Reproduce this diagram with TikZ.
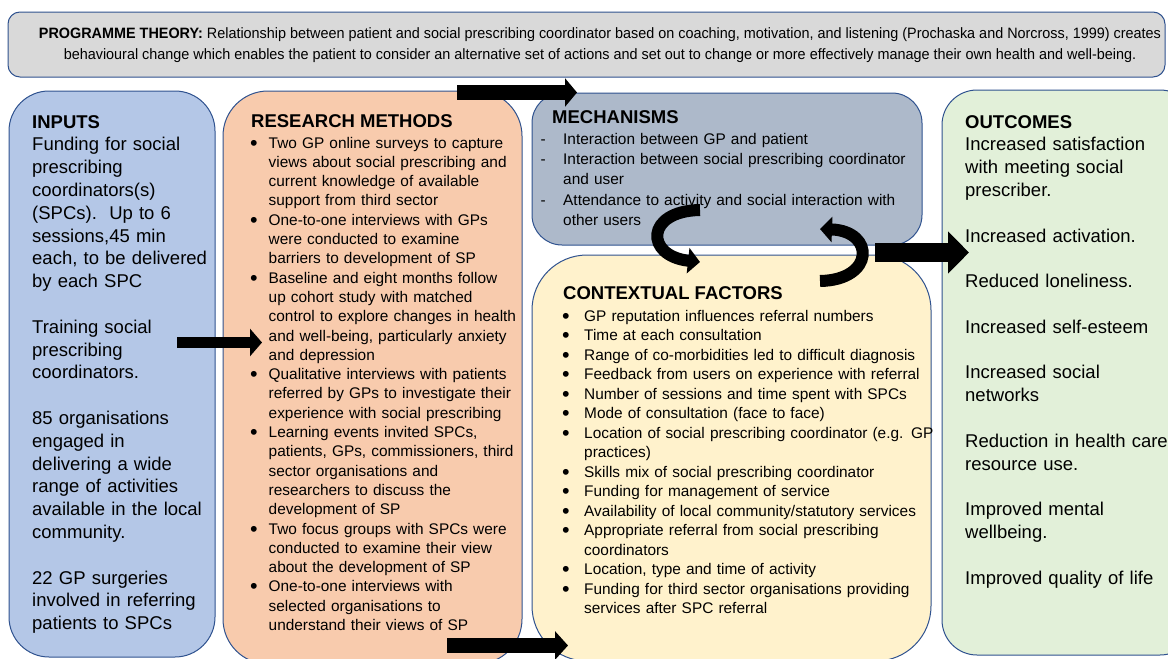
\documentclass[tikz,border=0pt]{standalone}
\usepackage{fontspec}
\setmainfont{Liberation Sans}
\newfontfamily\narrowfont[FakeStretch=0.96]{Liberation Sans}
\usetikzlibrary{arrows.meta}

\definecolor{bordercol}{HTML}{2F528F}
\definecolor{theorycol}{HTML}{D9D9D9}
\definecolor{inputcol}{HTML}{B4C7E7}
\definecolor{methodcol}{HTML}{F8CBAD}
\definecolor{mechcol}{HTML}{ADB9CA}
\definecolor{contextcol}{HTML}{FFF2CC}
\definecolor{outcomecol}{HTML}{E2F0D9}

\newlength{\bulwidth}
\newcommand{\bul}{\makebox[\bulwidth][l]{\raisebox{-2pt}{\scalebox{1.4}{\textbullet}}}}
\newcommand{\dsh}{\makebox[\bulwidth][l]{-}}
\newcommand{\ind}{\hspace*{\bulwidth}}

\tikzset{
  panel/.style={draw=bordercol, line width=1pt, inner sep=0pt},
  bigtext/.style={anchor=base west, inner sep=0pt, text width=230pt, align=left,
    font=\fontsize{18.5pt}{22.8pt}\selectfont},
  smalltext/.style={anchor=base west, inner sep=0pt, text width=420pt, align=left,
    font=\fontsize{15.4pt}{19.3pt}\selectfont},
  heading/.style={anchor=base west, inner sep=0pt, font=\bfseries\fontsize{18.5pt}{22pt}\selectfont},
  blockarrow/.style={line width=#1, black},
  curvearrow/.style={line width=12pt, black, -{Triangle[length=12pt,width=25pt]}},
}

\begin{document}
\begin{tikzpicture}[x=1pt,y=-1pt]
\useasboundingbox (0,0) rectangle (1168,659);

%Programme theory
\node[panel, fill=theorycol, rounded corners=12pt,
minimum width=1157pt, minimum height=65pt] (theory) at (586.5,44.5){};

%Inputs
\node[panel, fill=inputcol, rounded corners=40pt,
minimum width=206pt, minimum height=566pt] (inputs) at (112,374){};

%Research methods
\node[panel, fill=methodcol, rounded corners=45pt,
minimum width=299pt, minimum height=573pt] (methods) at (372.5,377.5){};

%Mechanisms
\node[panel, fill=mechcol, rounded corners=30pt,
minimum width=390pt, minimum height=152pt] (mech) at (727,169){};

%Contextual factors
\node[panel, fill=contextcol, rounded corners=55pt,
minimum width=399pt, minimum height=406pt] (context) at (731.5,458){};

%Outcomes
\node[panel, fill=outcomecol, rounded corners=35pt,
minimum width=253pt, minimum height=565pt] (outcomes) at (1068.5,372.5){};


%%%%%%%%%%%%%%%%%Texts%%%%%%%%%%%%%%
\node[inner sep=0pt, align=center, font=\narrowfont\fontsize{15pt}{20.5pt}\selectfont
] (theorytext) at (600,45){\textbf{PROGRAMME THEORY:} Relationship between patient and social prescribing coordinator based on coaching, motivation, and listening (Prochaska and Norcross, 1999) creates\\
behavioural change which enables the patient to consider an alternative set of actions and set out to change or more effectively manage their own health and well-being.};

\node[bigtext] (inputstext) at (32,128){\textbf{INPUTS}\\
Funding for social\\
prescribing\\
coordinators(s)\\
(SPCs).\ \ Up to 6\\
sessions,45 min\\
each, to be delivered\\
by each SPC\\[22.8pt]
Training social\\
prescribing\\
coordinators.\\[22.8pt]
85 organisations\\
engaged in\\
delivering a wide\\
range of activities\\
available in the local\\
community.\\[22.8pt]
22 GP surgeries\\
involved in referring\\
patients to SPCs};

\node[heading] (methodstitle) at (251,127){RESEARCH METHODS};
\node[smalltext] (methodslist) at (250,148){\setlength{\bulwidth}{18.5pt}%
\bul Two GP online surveys to capture\\
\ind views about social prescribing and\\
\ind current knowledge of available\\
\ind support from third sector\\
\bul One-to-one interviews with GPs\\
\ind were conducted to examine\\
\ind barriers to development of SP\\
\bul Baseline and eight months follow\\
\ind up cohort study with matched\\
\ind control to explore changes in health\\
\ind and well-being, particularly anxiety\\
\ind and depression\\
\bul Qualitative interviews with patients\\
\ind referred by GPs to investigate their\\
\ind experience with social prescribing\\
\bul Learning events invited SPCs,\\
\ind patients, GPs, commissioners, third\\
\ind sector organisations and\\
\ind researchers to discuss the\\
\ind development of SP\\
\bul Two focus groups with SPCs were\\
\ind conducted to examine their view\\
\ind about the development of SP\\
\bul One-to-one interviews with\\
\ind selected organisations to\\
\ind understand their views of SP};

\node[heading] (mechtitle) at (552,123.5){MECHANISMS};
\node[smalltext, font=\fontsize{15.4pt}{20.4pt}\selectfont
] (mechlist) at (540.5,144){\setlength{\bulwidth}{22.5pt}%
\dsh Interaction between GP and patient\\
\dsh Interaction between social prescribing coordinator\\
\ind and user\\
\dsh Attendance to activity and social interaction with\\
\ind other users};

\node[heading] (contexttitle) at (563,299.5){CONTEXTUAL FACTORS};
\node[smalltext, font=\fontsize{15.4pt}{19.53pt}\selectfont
] (contextlist) at (562,321){\setlength{\bulwidth}{22pt}%
\bul GP reputation influences referral numbers\\
\bul Time at each consultation\\
\bul Range of co-morbidities led to difficult diagnosis\\
\bul Feedback from users on experience with referral\\
\bul Number of sessions and time spent with SPCs\\
\bul Mode of consultation (face to face)\\
\bul Location of social prescribing coordinator (e.g. GP\\
\ind practices)\\
\bul Skills mix of social prescribing coordinator\\
\bul Funding for management of service\\
\bul Availability of local community/statutory services\\
\bul Appropriate referral from social prescribing\\
\ind coordinators\\
\bul Location, type and time of activity\\
\bul Funding for third sector organisations providing\\
\ind services after SPC referral};

\node[bigtext] (outcomestext) at (965,128){\textbf{OUTCOMES}\\
Increased satisfaction\\
with meeting social\\
prescriber.\\[22.8pt]
Increased activation.\\[22.8pt]
Reduced loneliness.\\[22.8pt]
Increased self-esteem\\[22.8pt]
Increased social\\
networks\\[22.8pt]
Reduction in health care\\
resource use.\\[22.8pt]
Improved mental\\
wellbeing.\\[22.8pt]
Improved quality of life};


%%%%%%%%%%%%%%%%%Arrows%%%%%%%%%%%%%%
\coordinate (toparrowstart) at (457,92.5);
\coordinate (toparrowend) at (577,92.5);
\coordinate (inarrowstart) at (177,342.5);
\coordinate (inarrowend) at (262,342.5);
\coordinate (botarrowstart) at (447,645.5);
\coordinate (botarrowend) at (568,645.5);
\coordinate (outarrowstart) at (875,252.5);
\coordinate (outarrowend) at (969,252.5);

\draw[blockarrow=15pt, -{Triangle[length=12pt,width=28pt]}] (toparrowstart) -- (toparrowend);
\draw[blockarrow=11pt, -{Triangle[length=12pt,width=27pt]}] (inarrowstart) -- (inarrowend);
\draw[blockarrow=15pt, -{Triangle[length=13pt,width=28pt]}] (botarrowstart) -- (botarrowend);
\draw[blockarrow=19pt, -{Triangle[length=21pt,width=41pt]}] (outarrowstart) -- (outarrowend);

%Mechanisms <-> contextual factors
\coordinate (downstart) at (700,210);
\coordinate (downend) at (700,262);
\coordinate (upstart) at (820,281);
\coordinate (upend) at (820,229);

\draw[curvearrow] (downstart) .. controls (645,211) and (645,256) .. (downend);
\draw[curvearrow] (upstart) .. controls (875,280) and (875,231) .. (upend);

\end{tikzpicture}
\end{document}
